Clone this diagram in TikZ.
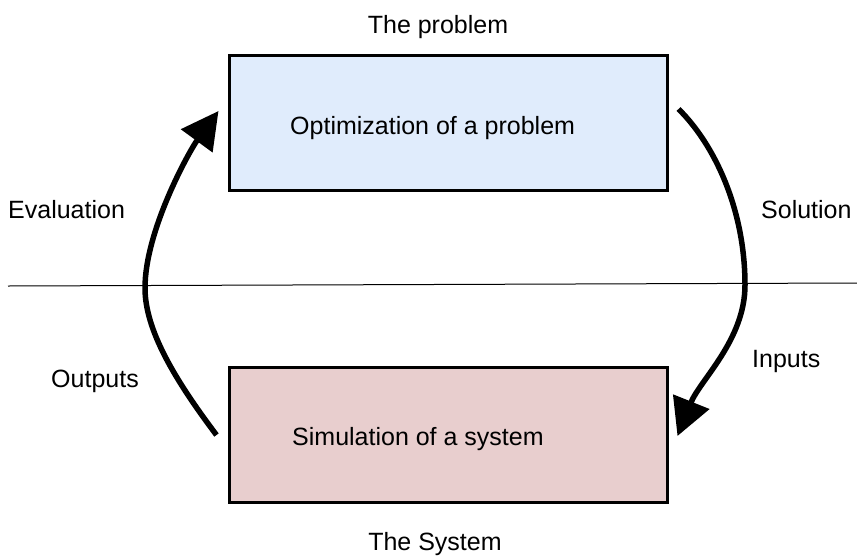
\documentclass[tikz,border=0pt]{standalone}
\usepackage{fontspec}
\setmainfont{Liberation Sans}
\usetikzlibrary{arrows.meta}
\definecolor{optfill}{RGB}{224,236,252}
\definecolor{simfill}{RGB}{232,206,206}
\begin{document}
\begin{tikzpicture}[x=1pt,y=-1pt,
  every node/.style={font=\fontsize{25}{30}\selectfont, inner sep=0pt},
  stagebox/.style={draw=black, line width=3pt, minimum width=438pt, minimum height=135pt},
  flow/.style={line width=5.5pt, -{Triangle[length=37pt,width=38pt]}},
  caption/.style={anchor=base west}]
  \useasboundingbox (0,0) rectangle (857,555);

  % the two stages
  \node[stagebox, fill=optfill] (opt) at (448,122.5) {};
  \node[stagebox, fill=simfill] (sim) at (448,435) {};
  \node[caption] (opttext) at (290,134) {Optimization of a problem};
  \node[caption] (simtext) at (292,445) {Simulation of a system};

  % titles above and below
  \node[anchor=base] (problem) at (438,33) {The problem};
  \node[anchor=base] (system) at (435,550) {The System};

  % dividing line between problem and system
  \coordinate (divL) at (8,286);
  \coordinate (divR) at (857,283);
  \draw[line width=1pt] (divL) -- (divR);

  % side labels
  \node[caption] (evaluation) at (8,218) {Evaluation};
  \node[caption] (outputs) at (51,387) {Outputs};
  \node[caption] (solution) at (761,218) {Solution};
  \node[caption] (inputs) at (752,367) {Inputs};

  % feedback loop
  \draw[flow] ([xshift=-11pt]sim.west)
     .. controls (175,380) and (145,330) .. (145,288)
     .. controls (145,230) and (190,150) .. ([xshift=-9pt,yshift=11.5pt]opt.west);
  \draw[flow] ([xshift=10pt,yshift=13.5pt]opt.east)
     .. controls (715,145) and (745,210) .. (745,285)
     .. controls (745,340) and (700,380) .. ([xshift=9pt,yshift=-1pt]sim.east);
\end{tikzpicture}
\end{document}
